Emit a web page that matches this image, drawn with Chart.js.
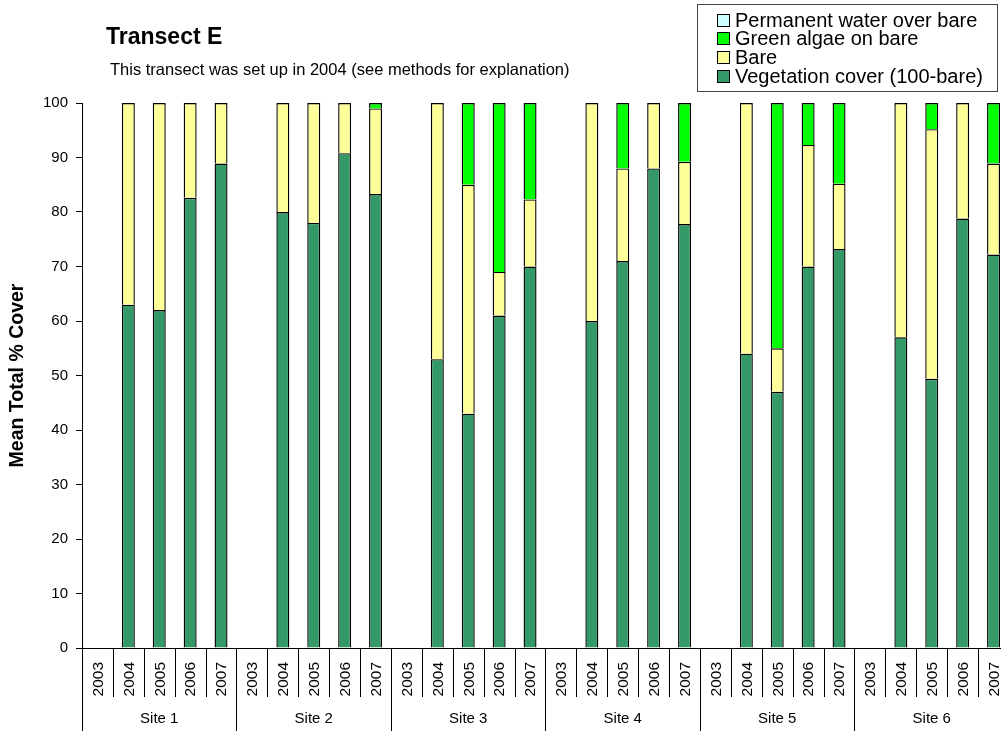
<!DOCTYPE html>
<html><head><meta charset="utf-8">
<script src="https://cdn.jsdelivr.net/npm/chart.js@4.4.1/dist/chart.umd.min.js"></script>
<style>
html,body{margin:0;padding:0;background:#fff;overflow:hidden;}
#wrap{position:relative;width:1001px;height:731px;overflow:hidden;}
canvas{display:block;}
</style></head><body>
<div id="wrap"><canvas id="c" width="1010" height="731"></canvas></div>
<script>
const FONT = "'Liberation Sans', Arial, sans-serif";
const chartTitle = 'Transect E';
const chartSubtitle = 'This transect was set up in 2004 (see methods for explanation)';
const yAxisTitle = 'Mean Total % Cover';
const sites = ['Site 1', 'Site 2', 'Site 3', 'Site 4', 'Site 5', 'Site 6'];
const years = ['2003', '2004', '2005', '2006', '2007'];
const yTicks = [0, 10, 20, 30, 40, 50, 60, 70, 80, 90, 100];

const seriesNames = ['Vegetation cover (100-bare)', 'Bare', 'Green algae on bare', 'Permanent water over bare'];
const seriesColors = ['#339966', '#FFFF99', '#00FF00', '#CCFFFF'];

// order within each site: 2003, 2004, 2005, 2006, 2007
const vegetation     = [null, 63, 62, 82.6, 88.9,  null, 80, 78, 90.8, 83.3,  null, 53, 43, 61, 70,    null, 60, 71, 88, 77.8,  null, 54, 47, 70, 73.2,   null, 57, 49.4, 78.8, 72.2];
const bare           = [null, 37, 38, 17.4, 11.1,  null, 20, 22, 9.2, 15.7,   null, 47, 42, 8, 12.3,    null, 40, 17, 12, 11.4,  null, 46, 8, 22.3, 12,    null, 43, 45.8, 21.2, 16.7];
const greenAlgae     = [null, 0, 0, 0, 0,          null, 0, 0, 0, 1,          null, 0, 15, 31, 17.7,    null, 0, 12, 0, 10.8,    null, 0, 45, 7.7, 14.8,   null, 0, 4.8, 0, 11.1];
const permanentWater = [null, 0, 0, 0, 0,          null, 0, 0, 0, 0,          null, 0, 0, 0, 0,         null, 0, 0, 0, 0,        null, 0, 0, 0, 0,         null, 0, 0, 0, 0];

const labels = [];
sites.forEach(s => years.forEach(y => labels.push(y)));
const seriesData = [vegetation, bare, greenAlgae, permanentWater];

const datasets = seriesNames.map((name, i) => ({
  label: name,
  data: seriesData[i],
  backgroundColor: seriesColors[i],
  borderColor: '#000',
  borderWidth: ctx => (ctx.raw ? 1.4 : 0),
  borderSkipped: 'bottom',
  inflateAmount: 0,
  barPercentage: 0.42,
  categoryPercentage: 1
}));

const customDraw = {
  id: 'customDraw',
  afterDraw(chart) {
    const ctx = chart.ctx, xs = chart.scales.x, ca = chart.chartArea;
    const n = chart.data.labels.length;
    const step = xs.getPixelForValue(1) - xs.getPixelForValue(0);
    const start = xs.getPixelForValue(0) - step / 2;
    const base = ca.bottom;
    ctx.save();
    ctx.strokeStyle = '#000';
    ctx.lineWidth = 1;
    for (let i = 0; i <= n; i++) {
      const x = Math.round(start + i * step) + 0.5;
      const long = i % years.length === 0;
      ctx.beginPath();
      ctx.moveTo(x, base);
      ctx.lineTo(x, long ? 731 : base + 49);
      ctx.stroke();
    }
    ctx.fillStyle = '#000';
    ctx.font = '15.5px ' + FONT;
    for (let i = 0; i < n; i++) {
      const x = xs.getPixelForValue(i);
      ctx.save();
      ctx.translate(x + 1, base + 14);
      ctx.rotate(-Math.PI / 2);
      ctx.textAlign = 'right';
      ctx.textBaseline = 'middle';
      ctx.fillText(chart.data.labels[i], 0, 0);
      ctx.restore();
    }
    ctx.font = '15px ' + FONT;
    ctx.textAlign = 'center';
    ctx.textBaseline = 'alphabetic';
    sites.forEach((s, k) => {
      const cx = start + (k * years.length + years.length / 2) * step;
      ctx.fillText(s, cx, 723);
    });
    // titles
    ctx.textAlign = 'left';
    ctx.font = 'bold 23px ' + FONT;
    ctx.fillText(chartTitle, 106, 44);
    ctx.font = '16.5px ' + FONT;
    ctx.fillText(chartSubtitle, 110, 75);
    // legend
    ctx.strokeStyle = '#444';
    ctx.strokeRect(697.5, 4.5, 300, 87);
    ctx.font = '20px ' + FONT;
    const ds = chart.data.datasets.slice().reverse();
    ds.forEach((d, k) => {
      const yb = 26.7 + k * 18.7;
      ctx.fillStyle = d.backgroundColor;
      ctx.fillRect(717, Math.round(yb) - 13, 13, 13);
      ctx.strokeStyle = '#000';
      ctx.strokeRect(717.5, Math.round(yb) - 12.5, 12, 12);
      ctx.fillStyle = '#000';
      ctx.fillText(d.label, 735, yb);
    });
    ctx.restore();
  }
};

new Chart(document.getElementById('c'), {
  type: 'bar',
  data: { labels, datasets },
  options: {
    responsive: false,
    animation: false,
    devicePixelRatio: 1,
    layout: { padding: { top: 103, right: 1, bottom: 0, left: 0 } },
    plugins: { legend: { display: false }, tooltip: { enabled: false } },
    scales: {
      x: {
        type: 'category',
        stacked: true,
        offset: true,
        grid: { display: false },
        border: { display: true, color: '#000', width: 1 },
        ticks: { display: false },
        afterFit(s) { s.height = 83; }
      },
      y: {
        stacked: true,
        min: 0,
        max: 100,
        afterBuildTicks(s) { s.ticks = yTicks.map(v => ({ value: v })); },
        ticks: { color: '#000', font: { family: FONT, size: 15 }, padding: 8 },
        grid: { drawOnChartArea: false, drawTicks: true, tickLength: 6, color: '#000' },
        border: { display: true, color: '#000', width: 1 },
        title: { display: true, text: yAxisTitle, color: '#000', font: { family: FONT, size: 19.5, weight: 'bold' }, padding: { top: 6, bottom: 0 } },
        afterFit(s) { s.width = 82; }
      }
    }
  },
  plugins: [customDraw]
});
</script>
</body></html>
